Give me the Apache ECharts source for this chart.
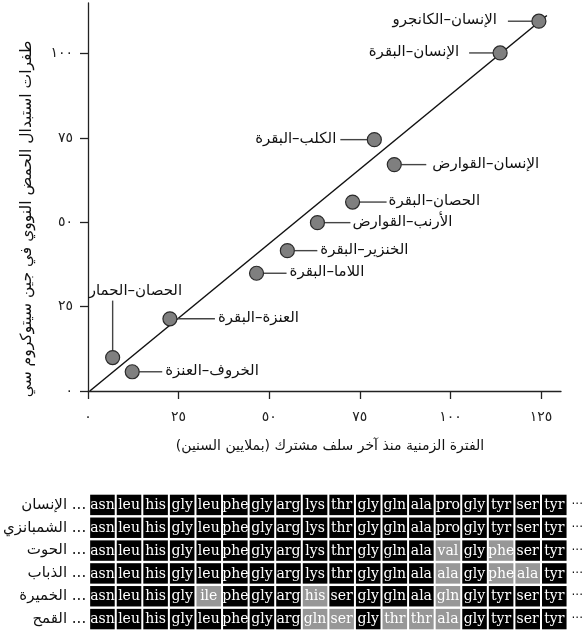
<!DOCTYPE html>
<html><head><meta charset="utf-8">
<script src="https://cdn.jsdelivr.net/npm/echarts@6/dist/echarts.min.js"></script>
<style>html,body{margin:0;padding:0;background:#fff}#c{width:586px;height:634px}</style>
</head><body><div id="c"></div>
<script>
// ---------- data ----------
const pairNames = ['الإنسان–الكانجرو','الإنسان–البقرة','الكلب–البقرة','الإنسان–القوارض','الحصان–البقرة','الأرنب–القوارض','الخنزير–البقرة','اللاما–البقرة','العنزة–البقرة','الحصان–الحمار','الخروف–العنزة'];
const divergenceMya = [124.4, 113.7, 79.0, 84.5, 73.0, 63.3, 55.0, 46.5, 22.6, 6.8, 12.2];
const substitutions = [109.6, 100.2, 74.5, 67.1, 56.0, 49.9, 41.6, 34.9, 21.4, 9.9, 5.7];
const trendX = [0.5, 126.6];
const trendY = [0, 111.3];
const xTickValues = [0, 25, 50, 75, 100, 125];
const xTickLabels = ['٠','٢٥','٥٠','٧٥','١٠٠','١٢٥'];
const yTickValues = [0, 25, 50, 75, 100];
const yTickLabels = ['٠','٢٥','٥٠','٧٥','١٠٠'];
const xAxisTitle = 'الفترة الزمنية منذ آخر سلف مشترك (بملايين السنين)\u200F';
const yAxisTitle = 'طفرات استبدال الحمض النووي في جين سيتوكروم سي';

const organisms = ['الإنسان','الشمبانزي','الحوت','الذباب','الخميرة','القمح'];
const seqHuman = ['asn','leu','his','gly','leu','phe','gly','arg','lys','thr','gly','gln','ala','pro','gly','tyr','ser','tyr'];
const seqChimp = ['asn','leu','his','gly','leu','phe','gly','arg','lys','thr','gly','gln','ala','pro','gly','tyr','ser','tyr'];
const seqWhale = ['asn','leu','his','gly','leu','phe','gly','arg','lys','thr','gly','gln','ala','val','gly','phe','ser','tyr'];
const seqFly   = ['asn','leu','his','gly','leu','phe','gly','arg','lys','thr','gly','gln','ala','ala','gly','phe','ala','tyr'];
const seqYeast = ['asn','leu','his','gly','ile','phe','gly','arg','his','ser','gly','gln','ala','gln','gly','tyr','ser','tyr'];
const seqWheat = ['asn','leu','his','gly','leu','phe','gly','arg','gln','ser','gly','thr','thr','ala','gly','tyr','ser','tyr'];
const greyHuman = [];
const greyChimp = [];
const greyWhale = [13, 15];
const greyFly   = [13, 15, 16];
const greyYeast = [4, 8, 13];
const greyWheat = [8, 9, 11, 12, 13];

// ---------- styling / layout (not data) ----------
const labelPlacement = [
  {side:'left', line:31, text:42},
  {side:'left', line:31, text:41},
  {side:'left', line:34, text:38},
  {side:'right', line:32, text:38},
  {side:'right', line:34, text:36},
  {side:'right', line:33, text:35},
  {side:'right', line:30, text:33},
  {side:'right', line:30, text:33},
  {side:'right', line:45, text:48},
  {side:'up', line:57, dx:-24, dy:-66},
  {side:'right', line:30, text:33}
];
const AR_FONT = '"DejaVu Sans", "Noto Sans", sans-serif';
const R = 7;

const sequences = [seqHuman, seqChimp, seqWhale, seqFly, seqYeast, seqWheat];
const greys = [greyHuman, greyChimp, greyWhale, greyFly, greyYeast, greyWheat];
const cells = [];
sequences.forEach((seq, r) => seq.forEach((aa, c) => cells.push({c, r, aa, grey: greys[r].indexOf(c) >= 0})));

const chart = echarts.init(document.getElementById('c'), null, {renderer:'canvas'});
const option = {
  animation: false,
  backgroundColor: '#fff',
  grid: [
    {left: 88, right: 25, top: 3, bottom: 243},
    {left: 86.3, right: 13.7, top: 493.5, bottom: 3.5}
  ],
  xAxis: [
    {type:'value', gridIndex:0, min:0, max:130.5,
     axisLine:{lineStyle:{color:'#222', width:1.3}},
     axisTick:{length:8, lineStyle:{color:'#222', width:1.3}, customValues: xTickValues},
     axisLabel:{customValues: xTickValues, margin:19, fontSize:14, color:'#222', fontFamily: AR_FONT,
       formatter: v => xTickLabels[xTickValues.indexOf(v)]},
     splitLine:{show:false}},
    {type:'category', gridIndex:1, data: seqHuman.map((_, i) => i), show:false}
  ],
  yAxis: [
    {type:'value', gridIndex:0, min:0, max:115,
     axisLine:{show:true, lineStyle:{color:'#222', width:1.3}},
     axisTick:{show:true, length:8, lineStyle:{color:'#222', width:1.3}, customValues: yTickValues},
     axisLabel:{customValues: yTickValues, margin:15, fontSize:14, color:'#222', fontFamily: AR_FONT,
       formatter: v => yTickLabels[yTickValues.indexOf(v)]},
     splitLine:{show:false}},
    {type:'category', gridIndex:1, data: organisms, inverse:true,
     axisLine:{show:false}, axisTick:{show:false},
     axisLabel:{margin:3, fontSize:15, color:'#111', fontFamily: AR_FONT, formatter: v => v + ' ...'}},
    {type:'category', gridIndex:1, data: organisms, inverse:true, position:'right',
     axisLine:{show:false}, axisTick:{show:false},
     axisLabel:{margin:4, fontSize:12, color:'#111', fontFamily: AR_FONT, formatter: () => '···'}}
  ],
  graphic: [
    {type:'text', x:27, y:219, rotation: Math.PI/2,
     style:{text: yAxisTitle, fill:'#111', font:'15.5px ' + AR_FONT, align:'center', verticalAlign:'middle', textAlign:'center', textVerticalAlign:'middle'}},
    {type:'text', x:330, y:446,
     style:{text: xAxisTitle, fill:'#111', font:'14px ' + AR_FONT, align:'center', verticalAlign:'middle', textAlign:'center', textVerticalAlign:'middle'}}
  ],
  series: [
    {type:'line', xAxisIndex:0, yAxisIndex:0, data: trendX.map((x, i) => [x, trendY[i]]),
     showSymbol:false, symbol:'none', lineStyle:{color:'#111', width:1.5}, z:2, silent:true},
    {type:'custom', xAxisIndex:0, yAxisIndex:0, clip:false, z:3,
     data: divergenceMya.map((x, i) => [x, substitutions[i]]),
     renderItem: function(params, api) {
       const p = api.coord([api.value(0), api.value(1)]);
       const L = labelPlacement[params.dataIndex];
       const name = pairNames[params.dataIndex];
       const lineStyle = {stroke:'#444', lineWidth:1.4};
       const ch = [];
       let tx, ty, align;
       if (L.side === 'left') {
         ch.push({type:'line', shape:{x1:p[0]-R, y1:p[1], x2:p[0]-L.line, y2:p[1]}, style:lineStyle});
         tx = p[0]-L.text; ty = p[1]-1; align = 'right';
       } else if (L.side === 'right') {
         ch.push({type:'line', shape:{x1:p[0]+R, y1:p[1], x2:p[0]+L.line, y2:p[1]}, style:lineStyle});
         tx = p[0]+L.text; ty = p[1]-1; align = 'left';
       } else {
         ch.push({type:'line', shape:{x1:p[0], y1:p[1]-R, x2:p[0], y2:p[1]-L.line}, style:lineStyle});
         tx = p[0]+L.dx; ty = p[1]+L.dy; align = 'left';
       }
       ch.push({type:'circle', shape:{cx:p[0], cy:p[1], r:R}, style:{fill:'#7f7f7f', stroke:'#2a2a2a', lineWidth:1.2}});
       ch.push({type:'text', x:tx, y:ty, style:{text:name, fill:'#111', font:'15px ' + AR_FONT,
         align:align, verticalAlign:'middle', textAlign:align, textVerticalAlign:'middle'}});
       return {type:'group', children: ch};
     }},
    {type:'custom', xAxisIndex:1, yAxisIndex:1, clip:false, z:3,
     data: cells.map(d => [d.c, d.r]),
     renderItem: function(params, api) {
       const d = cells[params.dataIndex];
       const p = api.coord([d.c, d.r]);
       const s = api.size([1, 1]);
       const w = s[0] - 2, h = s[1] - 2.4;
       return {type:'group', children:[
         {type:'rect', shape:{x:p[0]-w/2, y:p[1]-h/2, width:w, height:h}, style:{fill: d.grey ? '#979797' : '#000'}},
         {type:'text', x:p[0], y:p[1]+0.5, style:{text:d.aa, fill:'#fff', font:'14px "DejaVu Serif", serif',
           align:'center', verticalAlign:'middle', textAlign:'center', textVerticalAlign:'middle'}}
       ]};
     }}
  ]
};
chart.setOption(option);
</script>
</body></html>
